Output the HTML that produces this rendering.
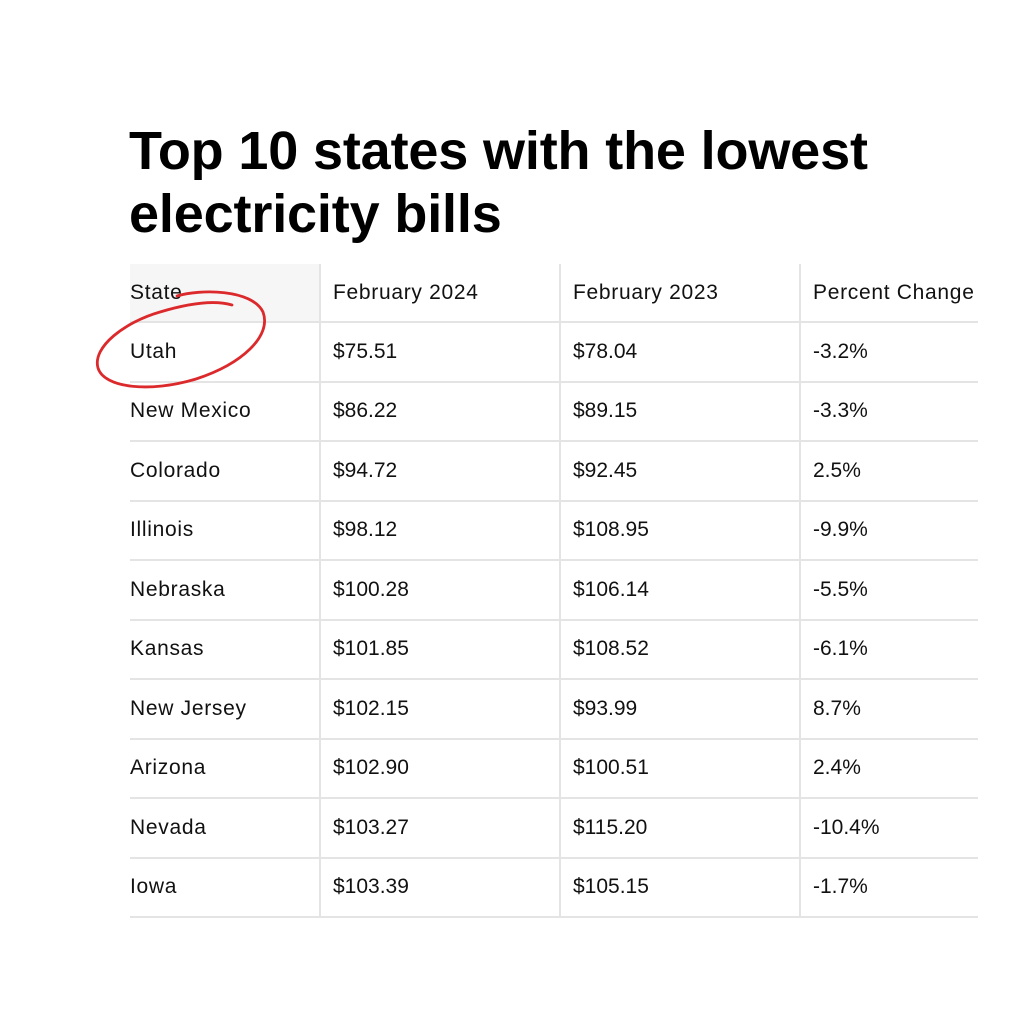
<!DOCTYPE html>
<html>
<head>
<meta charset="utf-8">
<style>
  html, body { margin:0; padding:0; background:#fff; }
  body { width:1024px; height:1024px; position:relative; overflow:hidden; font-family:"Liberation Sans", Arial, sans-serif; color:#111; }
  .title { position:absolute; left:129px; top:120px; font-size:54px; line-height:63px; font-weight:bold; letter-spacing:-0.15px; color:#000; white-space:nowrap; }
  .hbg { position:absolute; left:130px; top:264px; width:190px; height:58px; background:#f6f6f6; }
  .hl { position:absolute; left:130px; width:848px; height:2px; background:#e4e4e4; }
  .vl { position:absolute; top:264px; width:2px; height:653px; background:#e4e4e4; }
  .c { position:absolute; font-size:21px; white-space:nowrap; }
  .t { letter-spacing:0.7px; }
  .n { letter-spacing:0px; }
</style>
</head>
<body>
<div class="title">Top 10 states with the lowest<br>electricity bills</div>
<div class="hbg"></div>

<div class="vl" style="left:319px"></div>
<div class="vl" style="left:559px"></div>
<div class="vl" style="left:799px"></div>

<div class="hl" style="top:321px"></div>
<div class="hl" style="top:380.5px"></div>
<div class="hl" style="top:440px"></div>
<div class="hl" style="top:499.5px"></div>
<div class="hl" style="top:559px"></div>
<div class="hl" style="top:618.5px"></div>
<div class="hl" style="top:678px"></div>
<div class="hl" style="top:737.5px"></div>
<div class="hl" style="top:797px"></div>
<div class="hl" style="top:856.5px"></div>
<div class="hl" style="top:916px"></div>

<!-- header -->
<div class="c t" style="left:130px;top:264px;line-height:58px">State</div>
<div class="c t" style="left:333px;top:264px;line-height:58px">February 2024</div>
<div class="c t" style="left:573px;top:264px;line-height:58px">February 2023</div>
<div class="c t" style="left:813px;top:264px;line-height:58px">Percent Change</div>

<!-- rows -->
<div style="position:absolute;left:0;top:322px;width:1024px;">
  <div style="position:relative;height:59.47px;line-height:59.47px;">
    <div class="c t" style="left:130px">Utah</div><div class="c n" style="left:333px">$75.51</div><div class="c n" style="left:573px">$78.04</div><div class="c n" style="left:813px">-3.2%</div>
  </div>
  <div style="position:relative;height:59.47px;line-height:59.47px;">
    <div class="c t" style="left:130px">New Mexico</div><div class="c n" style="left:333px">$86.22</div><div class="c n" style="left:573px">$89.15</div><div class="c n" style="left:813px">-3.3%</div>
  </div>
  <div style="position:relative;height:59.47px;line-height:59.47px;">
    <div class="c t" style="left:130px">Colorado</div><div class="c n" style="left:333px">$94.72</div><div class="c n" style="left:573px">$92.45</div><div class="c n" style="left:813px">2.5%</div>
  </div>
  <div style="position:relative;height:59.47px;line-height:59.47px;">
    <div class="c t" style="left:130px">Illinois</div><div class="c n" style="left:333px">$98.12</div><div class="c n" style="left:573px">$108.95</div><div class="c n" style="left:813px">-9.9%</div>
  </div>
  <div style="position:relative;height:59.47px;line-height:59.47px;">
    <div class="c t" style="left:130px">Nebraska</div><div class="c n" style="left:333px">$100.28</div><div class="c n" style="left:573px">$106.14</div><div class="c n" style="left:813px">-5.5%</div>
  </div>
  <div style="position:relative;height:59.47px;line-height:59.47px;">
    <div class="c t" style="left:130px">Kansas</div><div class="c n" style="left:333px">$101.85</div><div class="c n" style="left:573px">$108.52</div><div class="c n" style="left:813px">-6.1%</div>
  </div>
  <div style="position:relative;height:59.47px;line-height:59.47px;">
    <div class="c t" style="left:130px">New Jersey</div><div class="c n" style="left:333px">$102.15</div><div class="c n" style="left:573px">$93.99</div><div class="c n" style="left:813px">8.7%</div>
  </div>
  <div style="position:relative;height:59.47px;line-height:59.47px;">
    <div class="c t" style="left:130px">Arizona</div><div class="c n" style="left:333px">$102.90</div><div class="c n" style="left:573px">$100.51</div><div class="c n" style="left:813px">2.4%</div>
  </div>
  <div style="position:relative;height:59.47px;line-height:59.47px;">
    <div class="c t" style="left:130px">Nevada</div><div class="c n" style="left:333px">$103.27</div><div class="c n" style="left:573px">$115.20</div><div class="c n" style="left:813px">-10.4%</div>
  </div>
  <div style="position:relative;height:59.47px;line-height:59.47px;">
    <div class="c t" style="left:130px">Iowa</div><div class="c n" style="left:333px">$103.39</div><div class="c n" style="left:573px">$105.15</div><div class="c n" style="left:813px">-1.7%</div>
  </div>
</div>

<svg width="1024" height="1024" style="position:absolute;left:0;top:0" viewBox="0 0 1024 1024">
  <path d="M 177 296 C 200 289, 252 289, 263 312 C 272 336, 242 364, 196 379 C 150 393, 104 388, 98 368 C 92 347, 125 322, 160 312 C 190 303, 215 300, 232 305"
        fill="none" stroke="#dc2a2c" stroke-width="2.8" stroke-linecap="round" stroke-linejoin="round"/>
</svg>
</body>
</html>
